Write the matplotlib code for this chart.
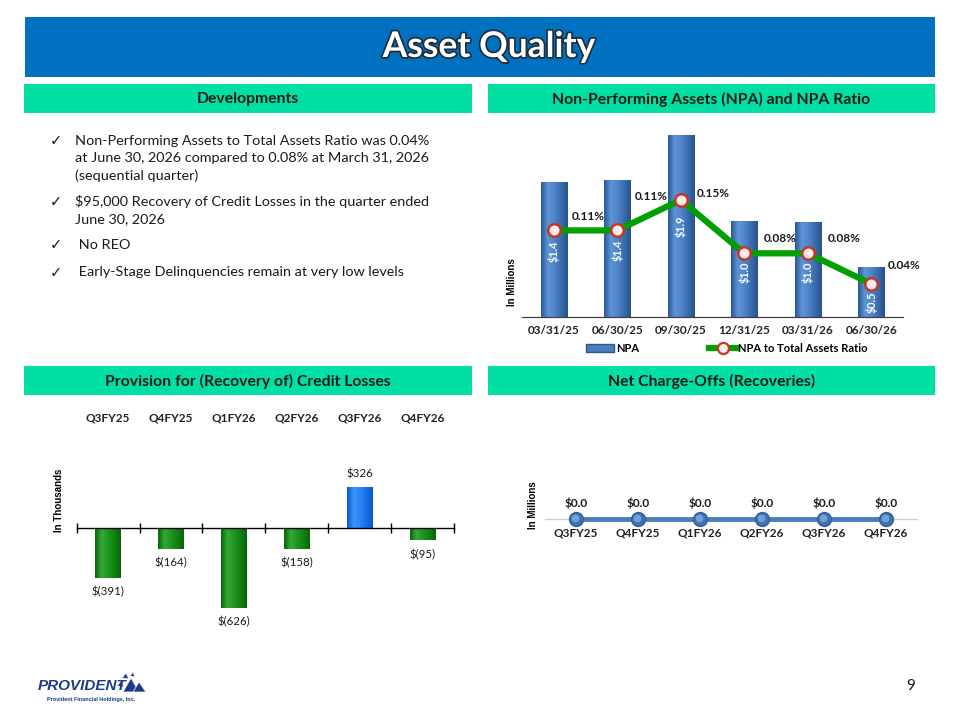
import matplotlib
matplotlib.use('Agg')
import matplotlib.pyplot as plt
import matplotlib.transforms as mtransforms
import numpy as np
from matplotlib.patches import Rectangle, Polygon, Patch
from matplotlib.lines import Line2D
from matplotlib.colors import LinearSegmentedColormap
import matplotlib.patheffects as pe

# ---------------- data ----------------
npa_dates = ['03/31/25', '06/30/25', '09/30/25', '12/31/25', '03/31/26', '06/30/26']
npa_values = [1.41, 1.43, 1.90, 1.00, 0.99, 0.52]          # $ millions
npa_labels = ['$1.4', '$1.4', '$1.9', '$1.0', '$1.0', '$0.5']
npa_ratio = [0.11, 0.11, 0.15, 0.08, 0.08, 0.04]            # percent
ratio_labels = ['0.11%', '0.11%', '0.15%', '0.08%', '0.08%', '0.04%']

quarters = ['Q3FY25', 'Q4FY25', 'Q1FY26', 'Q2FY26', 'Q3FY26', 'Q4FY26']
provision = [-391, -164, -626, -158, 326, -95]               # $ thousands
provision_labels = ['$(391)', '$(164)', '$(626)', '$(158)', '$326', '$(95)']

charge_offs = [0.0, 0.0, 0.0, 0.0, 0.0, 0.0]                 # $ millions
charge_off_labels = ['$0.0', '$0.0', '$0.0', '$0.0', '$0.0', '$0.0']

bullets = [
    ['Non-Performing Assets to Total Assets Ratio was 0.04%',
     'at June 30, 2026 compared to 0.08% at March 31, 2026',
     '(sequential quarter)'],
    ['$95,000 Recovery of Credit Losses in the quarter ended',
     'June 30, 2026'],
    [' No REO'],
    [' Early-Stage Delinquencies remain at very low levels'],
]

# ---------------- layout helpers ----------------
W, H = 960, 720
fig = plt.figure(figsize=(9.6, 7.2), dpi=100)
fig.patch.set_facecolor('white')


def fx(px):
    return px / W


def fy(py):
    return 1 - py / H


def fig_rect(x0, y0, x1, y1, color):
    fig.add_artist(Rectangle((fx(x0), fy(y1)), (x1 - x0) / W, (y1 - y0) / H,
                             transform=fig.transFigure, facecolor=color,
                             edgecolor='none', zorder=0))


def shade_bars(ax, bars, colors):
    cmap = LinearSegmentedColormap.from_list('shade', colors)
    grad = np.linspace(0, 1, 64).reshape(1, -1)
    for b in bars:
        x0, y0 = b.get_x(), b.get_y()
        w, h = b.get_width(), b.get_height()
        im = ax.imshow(grad, extent=[x0, x0 + w, y0, y0 + h], aspect='auto',
                       cmap=cmap, zorder=b.get_zorder() + 0.1,
                       interpolation='bicubic')
        im.set_clip_path(b)


FONT = ['Lato', 'DejaVu Sans']
TXT = '#1a1a1a'

# ---------------- title & headers ----------------
fig_rect(25, 17, 935, 77, '#0070C0')
fig.text(fx(489), fy(47), 'Asset Quality', fontsize=25.5, weight='bold',
         color='white', ha='center', va='center', family=FONT,
         path_effects=[pe.withStroke(linewidth=2.4, foreground='#1d2b3a')])

HDR = '#00E0A4'
headers = [
    (24, 84, 472, 113, 'Developments'),
    (488, 84, 935, 113, 'Non-Performing Assets (NPA) and NPA Ratio'),
    (24, 366, 472, 395, 'Provision for (Recovery of) Credit Losses'),
    (488, 366, 935, 395, 'Net Charge-Offs (Recoveries)'),
]
for x0, y0, x1, y1, t in headers:
    fig_rect(x0, y0, x1, y1, HDR)
    fig.text(fx((x0 + x1) / 2), fy((y0 + y1) / 2 + 0.5), t, fontsize=11.3,
             weight='bold', color=TXT, ha='center', va='center', family=FONT)

# ---------------- bullets ----------------
line_y = [[140.7, 157.7, 175.7], [201.7, 219.0], [245.0], [272.3]]
for lines, ys in zip(bullets, line_y):
    fig.text(fx(56), fy(ys[0]), '\u2713', fontsize=10.5, color=TXT,
             ha='center', va='center', family=['DejaVu Sans'])
    for ln, yy in zip(lines, ys):
        fig.text(fx(75), fy(yy), ln, fontsize=10.4, color=TXT, ha='left',
                 va='center', family=FONT)

# ---------------- NPA chart ----------------
ax1 = fig.add_axes([fx(522), fy(316.7), 381 / W, 186.7 / H])
x = np.arange(len(npa_dates))
bars = ax1.bar(x, npa_values, width=0.41, color='#4A7EBB', zorder=2)
shade_bars(ax1, bars, ['#2A5894', '#5D95D8', '#4F86C9', '#3A6CAD', '#28528A'])
ax1.set_xlim(-0.5, len(x) - 0.5)
ax1.set_ylim(0, 1.951)
for s in ['top', 'right', 'left']:
    ax1.spines[s].set_visible(False)
ax1.spines['bottom'].set_color('#404040')
ax1.spines['bottom'].set_linewidth(0.9)
ax1.set_yticks([])
ax1.set_xticks(x, npa_dates)
ax1.tick_params(axis='x', length=0, pad=6)
for lbl in ax1.get_xticklabels():
    lbl.set_fontweight('bold')
    lbl.set_fontsize(8.5)
    lbl.set_family(FONT)
    lbl.set_color('#222222')
ax1.patch.set_alpha(0)

# bar value labels, rotated inside the bars
bar_label_shift = [-2, -2, -1, -3, -3, -10]   # px, layout nudges
for i, (v, lab) in enumerate(zip(npa_values, npa_labels)):
    ax1.annotate(lab, (i, v / 2), xytext=(0, bar_label_shift[i] * 0.72),
                 textcoords='offset points', rotation=90, ha='center',
                 va='center', color='white', weight='bold', fontsize=7.8,
                 family=FONT, zorder=4)

ax2 = ax1.twinx()
ax2.plot(x, npa_ratio, color='#00A000', lw=4.5, marker='o', ms=9,
         mfc='#FCEBEA', mec='#C0392B', mew=1.8, zorder=3)
ax2.set_ylim(-0.003, 0.2415)
ax2.set_xlim(-0.5, len(x) - 0.5)
ax2.set_axis_off()
ratio_offsets = [(34, -14), (34, -34), (33, -6), (36, -15), (36, -15), (33, -18)]
for i, (v, lab) in enumerate(zip(npa_ratio, ratio_labels)):
    dx, dy = ratio_offsets[i]
    ax2.annotate(lab, (i, v), xytext=(dx * 0.72, -dy * 0.72),
                 textcoords='offset points', ha='center', va='center',
                 fontsize=8.5, weight='bold', color=TXT, family=FONT)

handles = [Patch(facecolor='#4A7EBB', edgecolor='#2A5894'),
           Line2D([], [], color='#00A000', lw=4.5, marker='o', ms=8,
                  mfc='#FCEBEA', mec='#C0392B', mew=1.6)]
fig.legend(handles, ['NPA', 'NPA to Total Assets Ratio'], loc='center',
           bbox_to_anchor=(fx(727), fy(348.5)), ncol=2, frameon=False,
           prop={'family': FONT, 'weight': 'bold', 'size': 8},
           handlelength=2.5, handletextpad=0.15, columnspacing=6.3,
           handleheight=0.7)
fig.text(fx(511.7), fy(281.7), 'In Millions', rotation=90, fontsize=7,
         weight='bold', ha='center', va='center', family='Liberation Sans')

# ---------------- Provision chart ----------------
ax3 = fig.add_axes([fx(76.7), fy(630), 377.3 / W, 190 / H])
xq = np.arange(len(quarters))
pos = [v >= 0 for v in provision]
bars3 = ax3.bar(xq, provision, width=0.41,
                color=['#1E7FF5' if p else '#138A13' for p in pos], zorder=2)
for b, p in zip(bars3, pos):
    if p:
        shade_bars(ax3, [b], ['#0A5CCB', '#3D94FB', '#2A86F6', '#1670E6', '#0A58C2'])
    else:
        shade_bars(ax3, [b], ['#0A660A', '#36AA36', '#1F951F', '#128212', '#0A620A'])
for i, (v, lab) in enumerate(zip(provision, provision_labels)):
    off = 9.3 if v >= 0 else -9.9
    ax3.annotate(lab, (i, v), xytext=(0, off), textcoords='offset points',
                 ha='center', va='center', fontsize=8.3, color=TXT,
                 family=FONT)
ax3.set_xlim(-0.5, len(xq) - 0.5)
ax3.set_ylim(-794.5, 689.8)
for s in ['top', 'right', 'left']:
    ax3.spines[s].set_visible(False)
ax3.spines['bottom'].set_position(('data', 0))
ax3.spines['bottom'].set_color('black')
ax3.spines['bottom'].set_linewidth(1)
ax3.set_yticks([])
ax3.set_xticks(np.arange(len(xq) + 1) - 0.5)
ax3.set_xticklabels([])
ax3.tick_params(axis='x', direction='inout', length=7, width=1, color='black')
ax3.patch.set_alpha(0)
sec = ax3.secondary_xaxis('top')
sec.set_xticks(xq, quarters)
sec.tick_params(length=0, pad=12)
sec.spines['top'].set_visible(False)
for lbl in sec.get_xticklabels():
    lbl.set_fontweight('bold')
    lbl.set_fontsize(8.5)
    lbl.set_family(FONT)
    lbl.set_color('#222222')
fig.text(fx(59.3), fy(500), 'In Thousands', rotation=90, fontsize=7,
         weight='bold', ha='center', va='center', family='Liberation Sans')

# ---------------- Net charge-offs chart ----------------
ax4 = fig.add_axes([fx(545), fy(558), 371.7 / W, 78 / H])
xc = np.arange(len(quarters))
ax4.plot(xc, charge_offs, color='#4A7EBB', lw=3.5, marker='o', ms=10,
         mfc='#3F72B3', mec='#335E98', mew=1, zorder=3)
# soft highlight on the markers (sphere look)
ax4.plot(xc, charge_offs, ls='none', marker='o', ms=5.5, mfc='#7FA8DA',
         mec='none', alpha=0.85, zorder=4,
         transform=ax4.transData + mtransforms.ScaledTranslation(
             -1 / 100, 1.2 / 100, fig.dpi_scale_trans))
for i, (v, lab) in enumerate(zip(charge_offs, charge_off_labels)):
    ax4.annotate(lab, (i, v), xytext=(0, 11.7), textcoords='offset points',
                 ha='center', va='center', fontsize=8.5, weight='bold',
                 color=TXT, family=FONT)
ax4.set_xlim(-0.5, len(xc) - 0.5)
ax4.set_ylim(-1, 1)
for s in ['top', 'right', 'left']:
    ax4.spines[s].set_visible(False)
ax4.spines['bottom'].set_position(('data', 0))
ax4.spines['bottom'].set_color('#D0D0D0')
ax4.spines['bottom'].set_linewidth(1)
ax4.set_yticks([])
ax4.set_xticks(xc, quarters)
ax4.tick_params(axis='x', length=0, pad=6)
for lbl in ax4.get_xticklabels():
    lbl.set_fontweight('bold')
    lbl.set_fontsize(8.5)
    lbl.set_family(FONT)
    lbl.set_color('#222222')
ax4.patch.set_alpha(0)
fig.text(fx(532.7), fy(505), 'In Millions', rotation=90, fontsize=7,
         weight='bold', ha='center', va='center', family='Liberation Sans')

# ---------------- footer ----------------
fig.text(fx(911), fy(686), '9', fontsize=11, color=TXT, ha='center',
         va='center', family=FONT)
fig.text(fx(38), fy(686), 'PROVIDENT', fontsize=11, weight='bold',
         style='italic', color='#1B3C88', ha='left', va='center',
         family='Liberation Sans')
fig.text(fx(47), fy(700), 'Provident Financial Holdings, Inc.', fontsize=4,
         weight='bold', color='#1B3C88', ha='left', va='center',
         family='Liberation Sans')
tris = [[(123, 692), (131, 678), (139, 692)],
        [(133, 692), (139, 682), (146, 692)],
        [(122, 678), (126, 673), (129, 679)],
        [(130, 676), (133, 672), (135, 677)],
        [(117, 686), (121, 681), (124, 687)]]
for t in tris:
    fig.add_artist(Polygon([(fx(a), fy(b)) for a, b in t], closed=True,
                           transform=fig.transFigure, facecolor='#1B3C88',
                           edgecolor='white', lw=0.5))

fig.savefig('out.png', dpi=100, facecolor='white')
